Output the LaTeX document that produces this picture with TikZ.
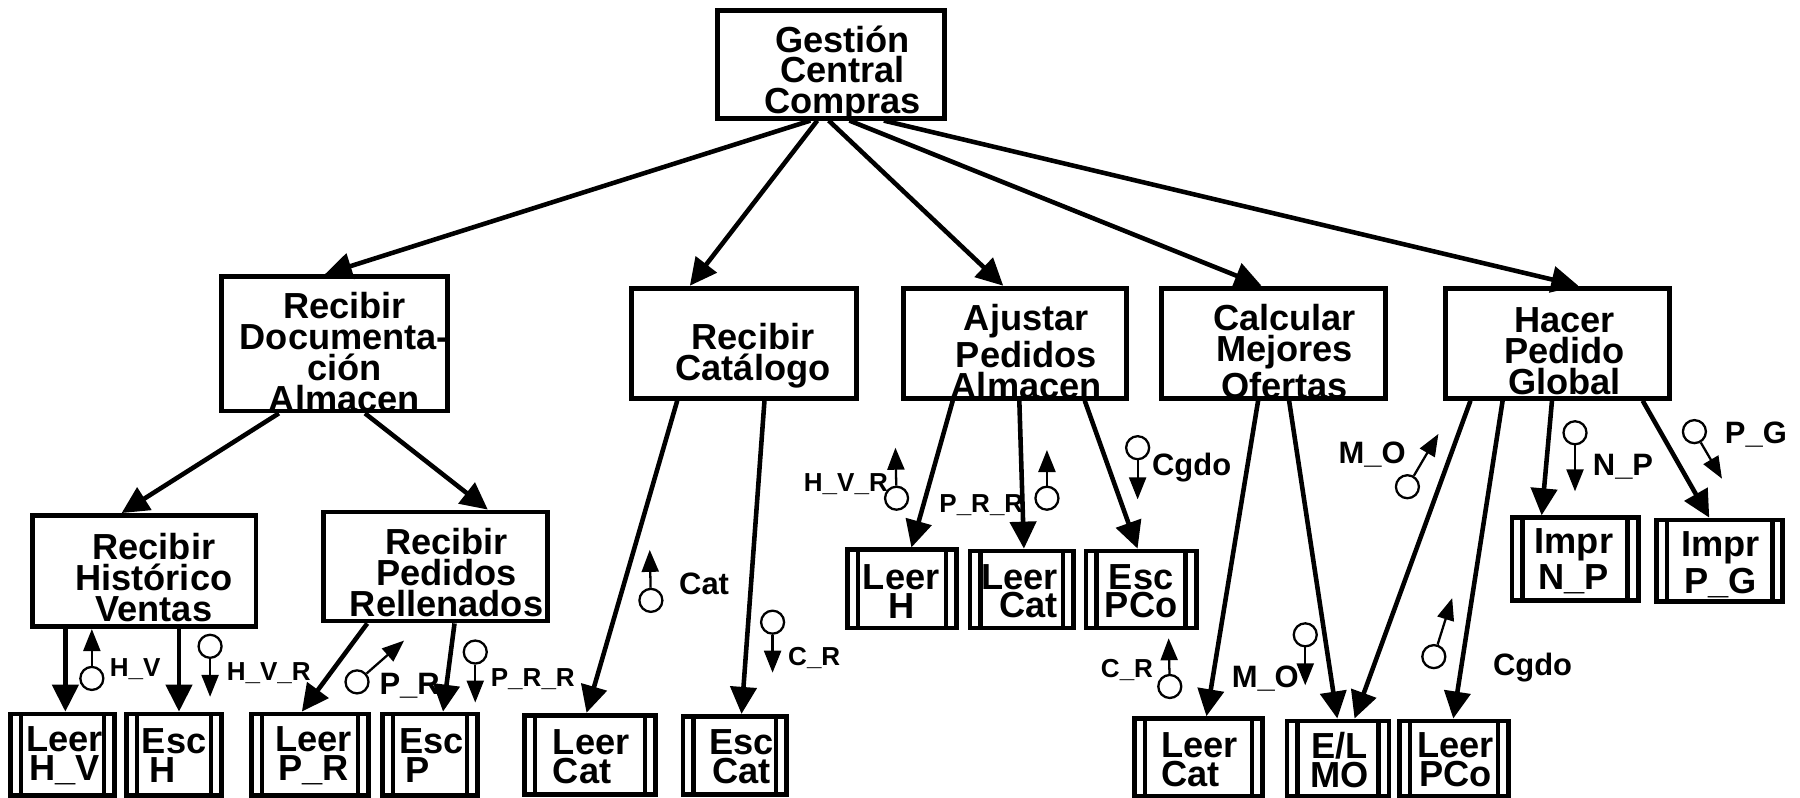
\documentclass[tikz,border=0pt]{standalone}
\usepackage{fontspec}
\setmainfont{Liberation Sans}
\usetikzlibrary{arrows.meta,fit,calc}

% call from a process box to a child box: source, x offset on its bottom edge, target, x offset on its top edge
\newcommand\callarrow[4]{\draw[callline] ($(#1.south west)+(#2,0)$) -- ($(#3.north west)+(#4,0)$);}
% data couple: name, circle centre, arrow tip, label style, label anchor, label position, label text
\newcommand\couple[7]{%
  \node[couplecirc] (#1) at (#2) {};
  \coordinate (#1e) at (#3);
  \draw[couplearrow] (#1) -- (#1e);
  \node[#4, anchor=#5] (#1l) at (#6) {#7};}

\begin{document}
\begin{tikzpicture}[x=0.01148cm, y=-0.01148cm,
  procbox/.style={draw, line width=1.35pt, inner sep=0pt},
  modbox/.style={procbox, path picture={
    \draw[line width=1.25pt] ([xshift=0.105cm]path picture bounding box.north west) -- ([xshift=0.105cm]path picture bounding box.south west);
    \draw[line width=1.25pt] ([xshift=-0.105cm]path picture bounding box.north east) -- ([xshift=-0.105cm]path picture bounding box.south east);}},
  ptxt/.style={font=\fontsize{10.3pt}{8.8pt}\selectfont\bfseries, align=center, inner sep=0pt},
  mtxt/.style={font=\fontsize{10.3pt}{8.2pt}\selectfont\bfseries, align=center, inner sep=0pt},
  callline/.style={line width=1.3pt, -{Triangle[length=0.27cm, width=0.26cm]}},
  couplecirc/.style={circle, draw, line width=0.65pt, minimum size=0.23cm, inner sep=0pt},
  couplearrow/.style={line width=0.65pt, -{Triangle[length=0.22cm, width=0.17cm]}},
  lbig/.style={font=\fontsize{8.8pt}{9pt}\selectfont\bfseries, inner sep=0pt, text height=6.3pt, text depth=0pt},
  lsmall/.style={font=\fontsize{7.4pt}{8pt}\selectfont\bfseries, inner sep=0pt, text height=5.3pt, text depth=0pt}]
\useasboundingbox (0,0) rectangle (1568,695);

% process boxes
\node[procbox, fit={(625,9)(823,103)}] (root) {};
\node[ptxt] (root-t) at (734,64) {Gestión\\Central\\Compras};
\node[procbox, fit={(193,241)(390,358)}] (rda) {};
\node[ptxt] (rda-t) at (300,307) {Recibir\\Documenta-\\ción\\Almacen};
\node[procbox, fit={(550,251)(746,347)}] (rc) {};
\node[ptxt] (rc-t) at (656,310) {Recibir\\Catálogo};
\node[procbox, fit={(787,251)(981,347)}] (apa) {};
\node[ptxt] (apa-t) at (894,306) {Ajustar\\Pedidos\\Almacen};
\node[procbox, fit={(1012,251)(1207,347)}] (cmo) {};
\node[ptxt] (cmo-t) at (1119,306) {Calcular\\Mejores\\Ofertas};
\node[procbox, fit={(1259,251)(1454,347)}] (hpg) {};
\node[ptxt] (hpg-t) at (1363,306) {Hacer\\Pedido\\Global};
\node[procbox, fit={(28,449)(223,546)}] (rhv) {};
\node[ptxt] (rhv-t) at (134,503) {Recibir\\Histórico\\Ventas};
\node[procbox, fit={(282,446)(477,541)}] (rpr) {};
\node[ptxt] (rpr-t) at (389,499) {Recibir\\Pedidos\\Rellenados};

% library modules
\node[modbox, fit={(9,622)(100,693)}] (m1) {};
\node[mtxt] (m1-t) at (56,658) {Leer\\H\_V};
\node[modbox, fit={(110,622)(193,693)}] (m2) {};
\node[mtxt, align=left, anchor=west] (m2-t) at (123,658) {Esc\\\hspace*{0.08cm}H};
\node[modbox, fit={(219,622)(321,693)}] (m3) {};
\node[mtxt] (m3-t) at (273,658) {Leer\\P\_R};
\node[modbox, fit={(333,622)(416,693)}] (m4) {};
\node[mtxt, align=left, anchor=west] (m4-t) at (347,658) {Esc\\\hspace*{0.06cm}P};
\node[modbox, fit={(457,623)(571,692)}] (m5) {};
\node[mtxt, align=left, anchor=west] (m5-t) at (481,659) {Leer\\Cat};
\node[modbox, fit={(595,624)(685,692)}] (m6) {};
\node[mtxt] (m6-t) at (646,659) {Esc\\Cat};
\node[modbox, fit={(738,479)(833,547)}] (m7) {};
\node[mtxt] (m7-t) at (785,515) {Leer\\H};
\node[modbox, fit={(845,480)(935,547)}] (m8) {};
\node[mtxt, align=right, anchor=east] (m8-t) at (922,515) {Leer\\Cat};
\node[modbox, fit={(946,480)(1042,547)}] (m9) {};
\node[mtxt] (m9-t) at (994,515) {Esc\\PCo};
\node[modbox, fit={(988,626)(1100,694)}] (m10) {};
\node[mtxt, align=left, anchor=west] (m10-t) at (1011,662) {Leer\\Cat};
\node[modbox, fit={(1121,628)(1210,694)}] (m11) {};
\node[mtxt] (m11-t) at (1167,662) {E/L\\MO};
\node[modbox, fit={(1219,628)(1314,694)}] (m12) {};
\node[mtxt] (m12-t) at (1268,662) {Leer\\PCo};
\node[modbox, fit={(1317,451)(1427,523)}] (m13) {};
\node[mtxt] (m13-t) at (1371,489) {Impr\\N\_P};
\node[modbox, fit={(1443,453)(1553,524)}] (m14) {};
\node[mtxt] (m14-t) at (1499,492) {Impr\\P\_G};

% calls
\callarrow{root}{83}{rda}{92}
\callarrow{root}{89}{rc}{53}
\callarrow{root}{99}{apa}{89}
\callarrow{root}{117}{cmo}{89}
\callarrow{root}{147}{hpg}{118}
\callarrow{rda}{52}{rhv}{80}
\callarrow{rda}{127}{rpr}{145}
\callarrow{rhv}{31}{m1}{50}
\callarrow{rhv}{130}{m2}{48}
\callarrow{rpr}{40}{m3}{46}
\callarrow{rpr}{116}{m4}{55}
\callarrow{rc}{42}{m5}{56}
\callarrow{rc}{118}{m6}{53}
\callarrow{apa}{45}{m7}{58}
\callarrow{apa}{103}{m8}{49}
\callarrow{apa}{160}{m9}{47}
\callarrow{cmo}{86}{m10}{65}
\callarrow{cmo}{113}{m11}{46}
\callarrow{hpg}{24}{m11}{61}
\callarrow{hpg}{52}{m12}{49}
\callarrow{hpg}{95}{m13}{28}
\callarrow{hpg}{174}{m14}{48}

% data couples
\couple{c1}{80,591}{80,548}{lsmall}{west}{95,581}{H\_V}
\couple{c2}{183,563}{183,607}{lsmall}{west}{197,585}{H\_V\_R}
\couple{c3}{311,594}{352,558}{lbig}{west}{330,595}{P\_R}
\couple{c4}{414,568}{414,612}{lsmall}{west}{427,590}{P\_R\_R}
\couple{c5}{567,523}{566,479}{lbig}{west}{591,508}{Cat}
\couple{c6}{673,542}{673,586}{lsmall}{west}{686,572}{C\_R}
\couple{c7}{781,434}{780,390}{lsmall}{east}{774,420}{H\_V\_R}
\couple{c8}{912,434}{912,392}{lsmall}{east}{892,438}{P\_R\_R}
\couple{c9}{991,390}{991,435}{lbig}{west}{1003,405}{Cgdo}
\couple{c10}{1019,598}{1018,556}{lsmall}{east}{1005,582}{C\_R}
\couple{c11}{1137,553}{1137,597}{lbig}{east}{1132,589}{M\_O}
\couple{c12}{1226,424}{1253,378}{lbig}{east}{1225,394}{M\_O}
\couple{c13}{1249,572}{1265,521}{lbig}{west}{1300,579}{Cgdo}
\couple{c14}{1372,377}{1372,428}{lbig}{west}{1387,405}{N\_P}
\couple{c15}{1476,376}{1500,417}{lbig}{west}{1502,377}{P\_G}
\end{tikzpicture}
\end{document}
